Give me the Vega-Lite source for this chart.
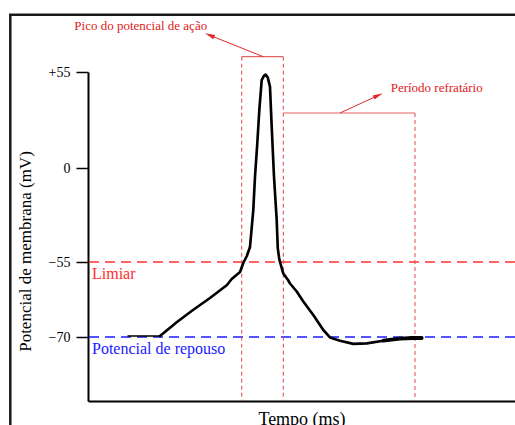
{
  "$schema": "https://vega.github.io/schema/vega-lite/v6.json",
  "width": 427,
  "height": 329,
  "autosize": {"type": "none"},
  "padding": {"left": 88, "top": 72, "right": 0, "bottom": 24},
  "background": "white",
  "config": {"view": {"stroke": null}, "font": "Liberation Serif", "axis": {"grid": false}},
  "layer": [
    {
      "data": {"values": [{"t": -1.82, "mV": 87.8, "t2": 12, "mV2": -100}]},
      "mark": {"type": "rect", "fill": "white", "fillOpacity": 0, "stroke": "#1a1a1a", "strokeWidth": 2.5},
      "encoding": {
        "x": {"field": "t", "type": "quantitative", "scale": {"domain": [0, 10], "nice": false, "zero": false},
          "axis": {"title": "Tempo (ms)", "ticks": false, "labels": false, "domainColor": "black", "domainWidth": 2,
            "titleFontSize": 18, "titleFontWeight": "normal", "titleColor": "black", "titleY": 23, "titleBaseline": "alphabetic", "titleFont": "Liberation Serif"}},
        "x2": {"field": "t2"},
        "y": {"field": "mV", "type": "quantitative", "scale": {"domain": [-83, -70, -55, 0, 55], "range": [329, 265, 190, 96, 0], "nice": false, "zero": false},
          "axis": {"title": "Potencial de membrana (mV)", "values": [-70, -55, 0, 55],
            "labelExpr": "datum.value > 0 ? '+' + datum.value : (datum.value < 0 ? '−' + abs(datum.value) : '0')",
            "tickSize": 12, "tickWidth": 1.5, "tickColor": "black", "labelFontSize": 14, "labelColor": "black", "labelPadding": 6,
            "labelFlush": false, "labelFont": "Liberation Serif",
            "domainColor": "black", "domainWidth": 2, "titleFontSize": 17, "titleFontWeight": "normal", "titleColor": "black",
            "titleAngle": -90, "titleX": -58, "titleY": 179, "titleAlign": "center", "titleBaseline": "alphabetic", "titleFont": "Liberation Serif"}},
        "y2": {"field": "mV2"}
      }
    },
    {
      "data": {"values": [{"nivel": "Limiar", "mV": -55}, {"nivel": "Potencial de repouso", "mV": -70}]},
      "mark": {"type": "rule", "strokeDash": [10, 6], "strokeWidth": 1.6},
      "encoding": {
        "y": {"field": "mV", "type": "quantitative", "scale": {"domain": [-83, -70, -55, 0, 55], "range": [329, 265, 190, 96, 0], "nice": false, "zero": false}},
        "color": {"field": "nivel", "type": "nominal", "scale": {"domain": ["Limiar", "Potencial de repouso"], "range": ["#ff3030", "#1a1aff"]}, "legend": null}
      }
    },
    {
      "data": {"values": [{"t": 3.6, "mV": 63.77, "mV2": -83}, {"t": 4.574, "mV": 63.77, "mV2": -83}, {"t": 7.658, "mV": 31.51, "mV2": -83}]},
      "mark": {"type": "rule", "color": "#e04848", "strokeWidth": 1, "strokeDash": [4, 3]},
      "encoding": {
        "x": {"field": "t", "type": "quantitative", "scale": {"domain": [0, 10], "nice": false, "zero": false}},
        "y": {"field": "mV", "type": "quantitative", "scale": {"domain": [-83, -70, -55, 0, 55], "range": [329, 265, 190, 96, 0], "nice": false, "zero": false}},
        "y2": {"field": "mV2"}
      }
    },
    {
      "data": {"values": [{"t": 3.6, "t2": 4.574, "mV": 63.77}, {"t": 4.574, "t2": 7.658, "mV": 31.51}]},
      "mark": {"type": "rule", "color": "#e46464", "strokeWidth": 1.2},
      "encoding": {
        "x": {"field": "t", "type": "quantitative", "scale": {"domain": [0, 10], "nice": false, "zero": false}},
        "x2": {"field": "t2"},
        "y": {"field": "mV", "type": "quantitative", "scale": {"domain": [-83, -70, -55, 0, 55], "range": [329, 265, 190, 96, 0], "nice": false, "zero": false}}
      }
    },
    {
      "data": {"name": "arrows", "values": [
        {"label": "pico", "t": 4.105, "mV": 63.77, "t2": 2.848, "mV2": 76.08},
        {"label": "refr", "t": 5.902, "mV": 31.51, "t2": 6.796, "mV2": 41.59}
      ]},
      "mark": {"type": "rule", "color": "#e02828", "strokeWidth": 1},
      "encoding": {
        "x": {"field": "t", "type": "quantitative", "scale": {"domain": [0, 10], "nice": false, "zero": false}},
        "x2": {"field": "t2"},
        "y": {"field": "mV", "type": "quantitative", "scale": {"domain": [-83, -70, -55, 0, 55], "range": [329, 265, 190, 96, 0], "nice": false, "zero": false}},
        "y2": {"field": "mV2"}
      }
    },
    {
      "data": {"values": [{"label": "pico", "t2": 2.848, "mV2": 76.08}]},
      "mark": {"type": "point", "shape": "M0,-1L0.45,1L-0.45,1Z", "filled": true, "size": 100, "angle": 292.5, "color": "#e02828", "opacity": 1},
      "encoding": {
        "x": {"field": "t2", "type": "quantitative", "scale": {"domain": [0, 10], "nice": false, "zero": false}},
        "y": {"field": "mV2", "type": "quantitative", "scale": {"domain": [-83, -70, -55, 0, 55], "range": [329, 265, 190, 96, 0], "nice": false, "zero": false}}
      }
    },
    {
      "data": {"values": [{"label": "refr", "t2": 6.796, "mV2": 41.59}]},
      "mark": {"type": "point", "shape": "M0,-1L0.45,1L-0.45,1Z", "filled": true, "size": 100, "angle": 65.2, "color": "#e02828", "opacity": 1},
      "encoding": {
        "x": {"field": "t2", "type": "quantitative", "scale": {"domain": [0, 10], "nice": false, "zero": false}},
        "y": {"field": "mV2", "type": "quantitative", "scale": {"domain": [-83, -70, -55, 0, 55], "range": [329, 265, 190, 96, 0], "nice": false, "zero": false}}
      }
    },
    {
      "data": {"values": [
        {"fase": "repouso", "t": 0.937, "mV": -69.8},
        {"fase": "repouso", "t": 1.686, "mV": -69.8},
        {"fase": "disparo", "t": 1.686, "mV": -69.8},
        {"fase": "disparo", "t": 2.084, "mV": -67.0},
        {"fase": "disparo", "t": 2.459, "mV": -64.6},
        {"fase": "disparo", "t": 2.857, "mV": -62.2},
        {"fase": "disparo", "t": 3.255, "mV": -59.6},
        {"fase": "disparo", "t": 3.365, "mV": -58.4},
        {"fase": "disparo", "t": 3.56, "mV": -57.0},
        {"fase": "disparo", "t": 3.637, "mV": -55.2},
        {"fase": "disparo", "t": 3.72, "mV": -51.5},
        {"fase": "disparo", "t": 3.794, "mV": -46.2},
        {"fase": "disparo", "t": 3.871, "mV": -24.6},
        {"fase": "disparo", "t": 3.911, "mV": -5.1},
        {"fase": "disparo", "t": 3.965, "mV": 14.3},
        {"fase": "disparo", "t": 4.012, "mV": 33.2},
        {"fase": "disparo", "t": 4.068, "mV": 50.4},
        {"fase": "disparo", "t": 4.12, "mV": 52.8},
        {"fase": "disparo", "t": 4.16, "mV": 53.5},
        {"fase": "disparo", "t": 4.21, "mV": 51.8},
        {"fase": "disparo", "t": 4.262, "mV": 46.6},
        {"fase": "disparo", "t": 4.302, "mV": 23.7},
        {"fase": "disparo", "t": 4.356, "mV": -5.1},
        {"fase": "disparo", "t": 4.419, "mV": -30.4},
        {"fase": "disparo", "t": 4.445, "mV": -47.0},
        {"fase": "disparo", "t": 4.48, "mV": -53.5},
        {"fase": "disparo", "t": 4.536, "mV": -56.2},
        {"fase": "disparo", "t": 4.574, "mV": -57.3},
        {"fase": "disparo", "t": 4.684, "mV": -58.6},
        {"fase": "disparo", "t": 4.731, "mV": -59.3},
        {"fase": "disparo", "t": 4.888, "mV": -60.9},
        {"fase": "disparo", "t": 5.042, "mV": -62.9},
        {"fase": "disparo", "t": 5.276, "mV": -65.6},
        {"fase": "disparo", "t": 5.511, "mV": -68.6},
        {"fase": "disparo", "t": 5.667, "mV": -70.1},
        {"fase": "disparo", "t": 5.902, "mV": -70.75},
        {"fase": "disparo", "t": 6.213, "mV": -71.4},
        {"fase": "disparo", "t": 6.527, "mV": -71.3},
        {"fase": "disparo", "t": 6.916, "mV": -70.75},
        {"fase": "recuperação", "t": 6.916, "mV": -70.75},
        {"fase": "recuperação", "t": 7.307, "mV": -70.35},
        {"fase": "recuperação", "t": 7.618, "mV": -70.2},
        {"fase": "recuperação", "t": 7.815, "mV": -70.2}
      ]},
      "mark": {"type": "line", "color": "black", "strokeCap": "round", "strokeJoin": "round"},
      "encoding": {
        "x": {"field": "t", "type": "quantitative", "scale": {"domain": [0, 10], "nice": false, "zero": false}},
        "y": {"field": "mV", "type": "quantitative", "scale": {"domain": [-83, -70, -55, 0, 55], "range": [329, 265, 190, 96, 0], "nice": false, "zero": false}},
        "strokeWidth": {"field": "fase", "type": "nominal", "scale": {"domain": ["repouso", "disparo", "recuperação"], "range": [1.5, 3.8, 2.2]}, "legend": null}
      }
    },
    {
      "data": {"values": [
        {"label": "Pico do potencial de ação", "t": 1.235, "mV": 81.35},
        {"label": "Período refratário", "t": 8.166, "mV": 45.95}
      ]},
      "mark": {"type": "text", "fontSize": 13, "color": "#e02020", "align": "center", "baseline": "middle", "font": "Liberation Serif"},
      "encoding": {
        "x": {"field": "t", "type": "quantitative", "scale": {"domain": [0, 10], "nice": false, "zero": false}},
        "y": {"field": "mV", "type": "quantitative", "scale": {"domain": [-83, -70, -55, 0, 55], "range": [329, 265, 190, 96, 0], "nice": false, "zero": false}},
        "text": {"field": "label"}
      }
    },
    {
      "data": {"values": [
        {"nivel": "Limiar", "t": 0.094, "mV": -57.46},
        {"nivel": "Potencial de repouso", "t": 0.094, "mV": -72.44}
      ]},
      "mark": {"type": "text", "fontSize": 16, "align": "left", "baseline": "middle", "font": "Liberation Serif"},
      "encoding": {
        "x": {"field": "t", "type": "quantitative", "scale": {"domain": [0, 10], "nice": false, "zero": false}},
        "y": {"field": "mV", "type": "quantitative", "scale": {"domain": [-83, -70, -55, 0, 55], "range": [329, 265, 190, 96, 0], "nice": false, "zero": false}},
        "text": {"field": "nivel"},
        "color": {"field": "nivel", "type": "nominal", "scale": {"domain": ["Limiar", "Potencial de repouso"], "range": ["#ff3030", "#1a1aff"]}, "legend": null}
      }
    }
  ]
}
